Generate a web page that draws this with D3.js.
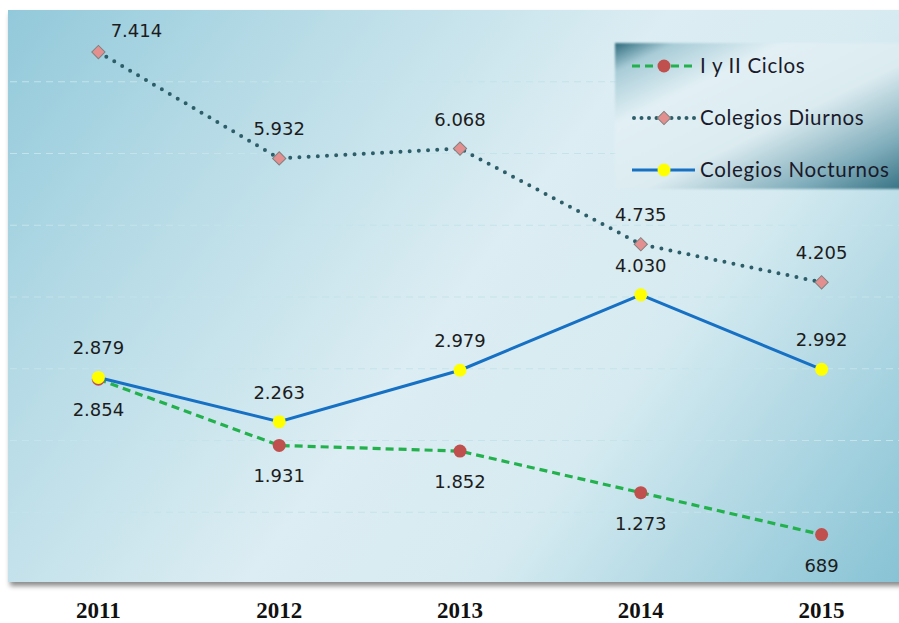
<!DOCTYPE html>
<html>
<head>
<meta charset="utf-8">
<script src="https://cdn.jsdelivr.net/npm/d3@7"></script>
<style>
  html, body { margin: 0; padding: 0; background: #fff; }
  svg { display: block; }
</style>
</head>
<body>
<div id="chart"></div>
<script>
// chart values
const years = ['2011', '2012', '2013', '2014', '2015'];
const ciclos = [2854, 1931, 1852, 1273, 689];
const diurnos = [7414, 5932, 6068, 4735, 4205];
const nocturnos = [2879, 2263, 2979, 4030, 2992];
const seriesNames = ['I y II Ciclos', 'Colegios Diurnos', 'Colegios Nocturnos'];
const gridTicks = [1000, 2000, 3000, 4000, 5000, 6000, 7000];

const W = 899, H = 623;
const plot = {left: 8, top: 10, right: 912, bottom: 584};

const es = d3.formatLocale({decimal: ',', thousands: '.', grouping: [3], currency: ['', '']});
const fmt = es.format(',d');

const svg = d3.select('#chart').append('svg')
  .attr('width', W)
  .attr('height', H);

const defs = svg.append('defs');

// plot background
const bg = defs.append('linearGradient')
  .attr('id', 'bgGrad')
  .attr('gradientUnits', 'userSpaceOnUse')
  .attr('x1', plot.left).attr('y1', plot.top)
  .attr('x2', 860).attr('y2', plot.bottom + 60);
bg.append('stop').attr('offset', 0).attr('stop-color', '#92c9da');
bg.append('stop').attr('offset', 0.22).attr('stop-color', '#b6dbe6');
bg.append('stop').attr('offset', 0.5).attr('stop-color', '#dcedf3');
bg.append('stop').attr('offset', 0.68).attr('stop-color', '#d6ebf1');
bg.append('stop').attr('offset', 1).attr('stop-color', '#86c2d4');

const shadow = defs.append('filter').attr('id', 'shadow')
  .attr('x', '-5%').attr('y', '-5%').attr('width', '110%').attr('height', '115%');
shadow.append('feDropShadow')
  .attr('dx', 2).attr('dy', 4).attr('stdDeviation', 2.5)
  .attr('flood-color', '#000').attr('flood-opacity', 0.45);

svg.append('rect')
  .attr('x', plot.left)
  .attr('y', plot.top)
  .attr('width', plot.right - plot.left)
  .attr('height', plot.bottom - plot.top - 2)
  .attr('fill', 'url(#bgGrad)')
  .attr('filter', 'url(#shadow)');

// scales
const x = d3.scaleBand().domain(years).range([plot.left, plot.right]).padding(0);
const cx = d => x(d) + x.bandwidth() / 2;
const y = d3.scaleLinear().domain([0, 8000]).range([plot.bottom, plot.top]);

// gridlines
svg.append('g').selectAll('line')
  .data(gridTicks)
  .join('line')
  .attr('x1', plot.left + 2)
  .attr('x2', W)
  .attr('y1', d => y(d))
  .attr('y2', d => y(d))
  .attr('stroke', '#c4e3ea')
  .attr('stroke-width', 1.2)
  .attr('stroke-dasharray', '7 5');

// year axis
const xAxis = svg.append('g')
  .attr('transform', `translate(0,${H - 5})`)
  .call(d3.axisBottom(x).tickSize(0).tickPadding(0));
xAxis.select('.domain').remove();
xAxis.selectAll('text')
  .attr('dy', 0)
  .attr('fill', '#111')
  .style('font-family', '"Liberation Serif", "DejaVu Serif", serif')
  .style('font-weight', 'bold')
  .style('font-size', '23px');

const series = [
  {name: seriesNames[0], values: ciclos, color: '#22b14c', width: 3.2, dash: '8 5', cap: 'butt',
   marker: 'circle', mfill: '#c0504d', mstroke: 'none', labelPos: 'below'},
  {name: seriesNames[1], values: diurnos, color: '#2c5d68', width: 4, dash: '0 9.2', cap: 'round',
   marker: 'diamond', mfill: '#e38f8f', mstroke: '#808080', labelPos: 'above'},
  {name: seriesNames[2], values: nocturnos, color: '#1670c4', width: 3, dash: null, cap: 'butt',
   marker: 'circle', mfill: '#ffff00', mstroke: 'none', labelPos: 'above'}
];

const line = d3.line().x(d => cx(d.year)).y(d => y(d.v));

function drawMarker(sel, s) {
  if (s.marker === 'circle') {
    sel.append('circle').attr('r', 6.5)
      .attr('fill', s.mfill).attr('stroke', s.mstroke);
  } else {
    sel.append('path')
      .attr('d', d3.symbol(d3.symbolSquare, 88)())
      .attr('transform', 'rotate(45)')
      .attr('fill', s.mfill)
      .attr('stroke', s.mstroke)
      .attr('stroke-width', 1);
  }
}

const layer = svg.append('g');
// draw the lower series first so Nocturnos sits on top at 2011
[series[1], series[0], series[2]].forEach(s => {
  const pts = s.values.map((v, i) => ({year: years[i], v}));
  layer.append('path')
    .datum(pts)
    .attr('d', line)
    .attr('fill', 'none')
    .attr('stroke', s.color)
    .attr('stroke-width', s.width)
    .attr('stroke-linecap', s.cap)
    .attr('stroke-dasharray', s.dash);

  layer.append('g').selectAll('g')
    .data(pts)
    .join('g')
    .attr('transform', d => `translate(${cx(d.year)},${y(d.v)})`)
    .each(function() { drawMarker(d3.select(this), s); });

  layer.append('g').selectAll('text')
    .data(pts)
    .join('text')
    .attr('x', d => cx(d.year))
    .attr('y', d => y(d.v))
    .attr('dy', s.labelPos === 'above' ? -23 : 37)
    .attr('text-anchor', 'middle')
    .attr('fill', '#1c1c1c')
    .style('font-family', '"DejaVu Sans", Verdana, sans-serif')
    .style('font-size', '18px')
    .text(d => fmt(d.v))
    // the first Diurnos label sits up and to the right, off the top edge
    .filter((d, i) => s.name === seriesNames[1] && i === 0)
    .attr('dx', 38)
    .attr('dy', -15);
});

// legend
const lg = defs.append('linearGradient')
  .attr('id', 'legGrad')
  .attr('x1', 0).attr('y1', 0).attr('x2', 1).attr('y2', 1);
lg.append('stop').attr('offset', 0).attr('stop-color', '#2d6a7c');
lg.append('stop').attr('offset', 0.1).attr('stop-color', '#a8ccd7');
lg.append('stop').attr('offset', 0.28).attr('stop-color', '#e2f0f5');
lg.append('stop').attr('offset', 0.55).attr('stop-color', '#dbebf0');
lg.append('stop').attr('offset', 0.8).attr('stop-color', '#80adbb');
lg.append('stop').attr('offset', 1).attr('stop-color', '#2e6b7d');

const soft = defs.append('filter').attr('id', 'soft');
soft.append('feGaussianBlur').attr('stdDeviation', 1.2);

const legend = svg.append('g').attr('transform', 'translate(615,43)');
legend.append('rect')
  .attr('width', 300)
  .attr('height', 146)
  .attr('fill', 'url(#legGrad)')
  .attr('filter', 'url(#soft)');

const rowY = d3.scalePoint().domain(seriesNames).range([23, 127]);

const items = legend.selectAll('.item')
  .data(series)
  .join('g')
  .attr('class', 'item')
  .attr('transform', d => `translate(0,${rowY(d.name)})`);

items.append('line')
  .attr('x1', d => d.marker === 'diamond' ? 19 : 17)
  .attr('x2', 80)
  .attr('stroke', d => d.color)
  .attr('stroke-width', d => d.width)
  .attr('stroke-linecap', d => d.cap)
  .attr('stroke-dasharray', d => d.dash ? (d.marker === 'diamond' ? '0 7.5' : '8 5') : null);

items.append('g')
  .attr('transform', 'translate(49,0)')
  .each(function(d) { drawMarker(d3.select(this), d); });

items.append('text')
  .attr('x', 85)
  .attr('dy', '0.35em')
  .attr('fill', '#1a1a2a')
  .style('font-family', 'Lato, "Open Sans", sans-serif')
  .style('font-size', '20.5px')
  .style('letter-spacing', '0.7px')
  .text(d => d.name);
</script>
</body>
</html>
